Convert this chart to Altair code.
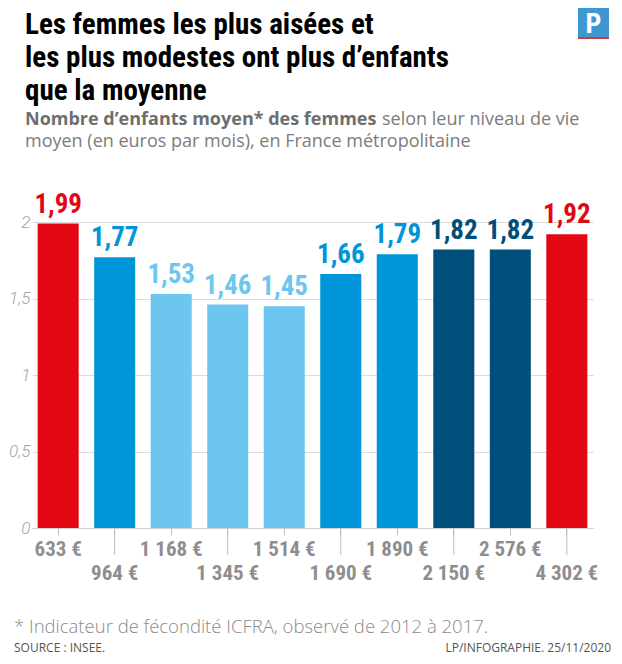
import altair as alt
import pandas as pd

# ---- data ----
revenus = ["633 €", "964 €", "1 168 €", "1 345 €", "1 514 €",
           "1 690 €", "1 890 €", "2 150 €", "2 576 €", "4 302 €"]
enfants = [1.99, 1.77, 1.53, 1.46, 1.45, 1.66, 1.79, 1.82, 1.82, 1.92]
groupes = ["extreme", "moyen", "modeste", "modeste", "modeste",
           "moyen", "moyen", "aise", "aise", "extreme"]
y_ticks = [0, 0.5, 1, 1.5, 2]

titre = "Les femmes les plus aisées et\nles plus modestes ont plus d’enfants\nque la moyenne"
sous_titre_gras = "Nombre d’enfants moyen* des femmes"
sous_titre_1 = "selon leur niveau de vie"
sous_titre_2 = "moyen (en euros par mois), en France métropolitaine"
note = "* Indicateur de fécondité ICFRA, observé de 2012 à 2017."
source = "SOURCE : INSEE."
credit = "LP/INFOGRAPHIE.  25/11/2020"

df = pd.DataFrame({"revenu": revenus, "enfants": enfants, "groupe": groupes})

COND = "'Roboto Condensed', 'Liberation Sans Narrow', 'DejaVu Sans Condensed', 'Arial Narrow', sans-serif"
W, H = 561, 306

color_scale = alt.Scale(domain=["extreme", "moyen", "modeste", "aise"],
                        range=["#e30613", "#0095d9", "#6dc6ef", "#004f7b"])

base = alt.Chart(df)

x_enc = alt.X("revenu:N", sort=None,
              scale=alt.Scale(paddingInner=0.274, paddingOuter=0.1),
              axis=alt.Axis(title=None, labels=False, ticks=True, tickSize=7,
                            tickColor="#bdbdbd", domain=True, domainColor="#cfcfcf"))

bars = base.mark_bar().encode(
    x=x_enc,
    y=alt.Y("enfants:Q", scale=alt.Scale(domain=[0, 2], nice=False),
            axis=alt.Axis(title=None, values=y_ticks, grid=True, gridColor="#dcdcdc",
                          domain=False, ticks=False, labelFont="Roboto",
                          labelFontWeight=300, labelFontStyle="italic",
                          labelFontSize=17, labelColor="#a3a3a3", labelPadding=2,
                          labelExpr="replace(toString(datum.value), '.', ',')")),
    color=alt.Color("groupe:N", scale=color_scale, legend=None),
)

values = base.transform_calculate(
    lab="replace(format(datum.enfants, '.2f'), '.', ',')"
).mark_text(font=COND, fontWeight="bold", fontSize=27, baseline="alphabetic",
            align="center", dy=-11).encode(
    x=alt.X("revenu:N", sort=None),
    y="enfants:Q",
    text="lab:N",
    color=alt.Color("groupe:N", scale=color_scale, legend=None),
)

rows = base.transform_window(idx="row_number()").transform_calculate(row="(datum.idx - 1) % 2")

long_ticks = rows.transform_filter("datum.row == 1").mark_rule(color="#bdbdbd", strokeWidth=1).encode(
    x=alt.X("revenu:N", sort=None), y=alt.value(H), y2=alt.value(H + 27))

lab0 = rows.transform_filter("datum.row == 0").mark_text(
    font=COND, fontWeight="bold", fontSize=21, color="#8e8e8e", baseline="alphabetic").encode(
    x=alt.X("revenu:N", sort=None), y=alt.value(H + 28), text="revenu:N")

lab1 = rows.transform_filter("datum.row == 1").mark_text(
    font=COND, fontWeight="bold", fontSize=21, color="#8e8e8e", baseline="alphabetic").encode(
    x=alt.X("revenu:N", sort=None), y=alt.value(H + 52), text="revenu:N")


def txt(s, x, y, align="left", **kw):
    return alt.Chart(pd.DataFrame({"t": [s]})).mark_text(baseline="alphabetic", align=align, **kw).encode(
        x=alt.value(x), y=alt.value(y), text="t:N")


title = txt(titre, -7, -188, font=COND, fontWeight="bold", fontSize=29, color="#000000",
            lineBreak="\n", lineHeight=33)
sub_b = txt(sous_titre_gras, -7, -97, font="Open Sans", fontWeight="bold", fontSize=18, color="#6e6e6e")
sub_r = txt(sous_titre_1, 350, -97, font="Open Sans", fontSize=18, color="#7c7c7c")
sub_2 = txt(sous_titre_2, -7, -75, font="Open Sans", fontSize=18, color="#7c7c7c")
foot = txt(note, -18, 411, font="Open Sans", fontWeight=300, fontSize=18.5, color="#8a8a8a")
src = txt(source, -18, 430, font="Open Sans", fontSize=12, color="#555555")
cred = txt(credit, 579, 430, align="right", font="Open Sans", fontSize=12, color="#555555")

logo_bg = alt.Chart(pd.DataFrame({"t": [""]})).mark_rect(color="#3d97d3").encode(
    x=alt.value(546), x2=alt.value(577), y=alt.value(-214), y2=alt.value(-185))
logo_line = alt.Chart(pd.DataFrame({"t": [""]})).mark_rect(color="#d9383a").encode(
    x=alt.value(546), x2=alt.value(577), y=alt.value(-185), y2=alt.value(-183))
logo_p = txt("P", 561.5, -189, align="center", font=COND, fontWeight="bold", fontSize=28, color="#ffffff")

chart = alt.layer(
    bars, values, long_ticks, lab0, lab1,
    title, sub_b, sub_r, sub_2, foot, src, cred, logo_bg, logo_line, logo_p
).properties(
    width=W, height=H,
    autosize=alt.AutoSizeParams(type="none"),
    padding={"left": 24, "top": 214, "right": 21, "bottom": 128},
    background="#ffffff",
).configure_view(stroke=None)

chart.save("out.html", embed_options={"renderer": "svg", "actions": False})
